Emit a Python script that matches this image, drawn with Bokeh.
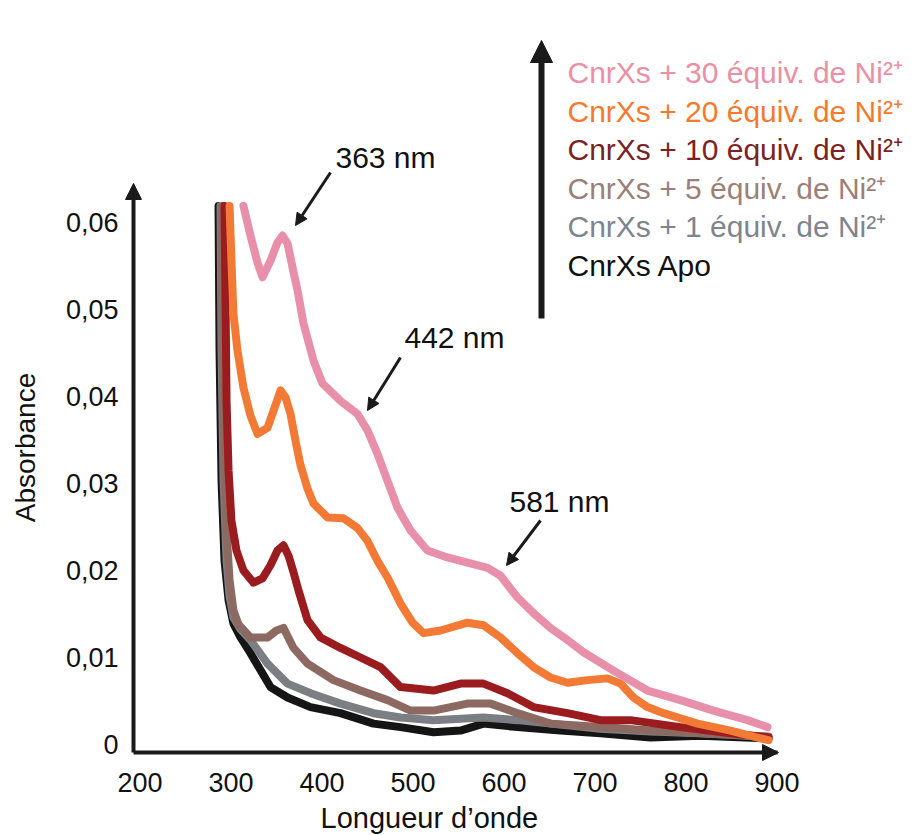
import math
from bokeh.plotting import figure
from bokeh.models import Range1d, FixedTicker, Label, Arrow, NormalHead, LinearAxis
from bokeh.embed import file_html
from bokeh.resources import INLINE

# ---------------- data ----------------
x_ticks = [200, 300, 400, 500, 600, 700, 800, 900]
y_ticks = [0, 0.01, 0.02, 0.03, 0.04, 0.05, 0.06]
y_tick_labels = ["0", "0,01", "0,02", "0,03", "0,04", "0,05", "0,06"]

series_names = [
    "CnrXs + 30 équiv. de Ni²⁺",
    "CnrXs + 20 équiv. de Ni²⁺",
    "CnrXs + 10 équiv. de Ni²⁺",
    "CnrXs + 5 équiv. de Ni²⁺",
    "CnrXs + 1 équiv. de Ni²⁺",
    "CnrXs Apo",
]

wl_30 = [313.7, 321.4, 329.1, 334.6, 343.4, 351.1, 356.6, 362.1, 368.7, 373.1, 379.7, 390.7,
         400.5, 420.3, 438.9, 450.0, 461.0, 472.0, 483.0, 497.3, 515.9, 537.9, 559.9, 581.9,
         596.2, 614.8, 632.4, 651.1, 669.8, 687.4, 720.3, 757.7, 793.9, 830.2, 867.6, 889.6]
abs_30 = [0.0619, 0.0585, 0.0554, 0.0537, 0.0556, 0.0577, 0.0585, 0.0576, 0.0543, 0.0522, 0.0484, 0.0441,
          0.0415, 0.0395, 0.0380, 0.0361, 0.0334, 0.0303, 0.0272, 0.0246, 0.0223, 0.0215, 0.0209, 0.0203,
          0.0194, 0.0169, 0.0151, 0.0134, 0.0120, 0.0106, 0.0085, 0.0062, 0.0051, 0.0039, 0.0028, 0.0020]

wl_20 = [298.4, 300.5, 302.7, 307.1, 313.7, 321.4, 329.1, 340.1, 348.9, 354.4, 359.9, 365.4,
         370.9, 376.4, 384.1, 390.7, 406.0, 423.6, 438.9, 450.0, 461.0, 472.0, 486.3, 499.5,
         511.5, 530.2, 559.9, 577.5, 596.2, 614.8, 632.4, 651.1, 669.8, 691.8, 713.7, 728.0,
         742.3, 757.7, 775.3, 812.6, 848.9, 878.6, 890.7]
abs_20 = [0.0619, 0.0556, 0.0495, 0.0453, 0.0410, 0.0378, 0.0357, 0.0364, 0.0390, 0.0407, 0.0399, 0.0380,
          0.0349, 0.0321, 0.0294, 0.0277, 0.0261, 0.0260, 0.0249, 0.0234, 0.0211, 0.0192, 0.0162, 0.0140,
          0.0128, 0.0131, 0.0140, 0.0137, 0.0123, 0.0105, 0.0089, 0.0077, 0.0071, 0.0074, 0.0076, 0.0070,
          0.0054, 0.0043, 0.0036, 0.0024, 0.0016, 0.0008, 0.0005]

wl_10 = [292.9, 294.0, 295.1, 297.3, 300.5, 306.0, 313.7, 324.7, 334.6, 343.4, 351.1, 357.7,
         363.2, 368.7, 374.2, 384.1, 398.4, 420.3, 442.3, 464.3, 478.6, 486.3, 522.5, 552.2,
         577.5, 603.8, 632.4, 669.8, 706.0, 739.0, 793.9, 848.9, 890.7]
abs_10 = [0.0619, 0.0510, 0.0395, 0.0315, 0.0257, 0.0223, 0.0200, 0.0186, 0.0191, 0.0206, 0.0223, 0.0229,
          0.0217, 0.0198, 0.0177, 0.0143, 0.0123, 0.0111, 0.0100, 0.0089, 0.0074, 0.0066, 0.0062, 0.0070,
          0.0070, 0.0059, 0.0043, 0.0036, 0.0028, 0.0028, 0.0020, 0.0013, 0.0008]

wl_5 = [289.6, 290.7, 292.9, 295.1, 298.4, 302.7, 308.2, 321.4, 340.1, 350.0, 357.7, 368.7,
        384.1, 412.6, 442.3, 472.0, 497.3, 522.5, 559.9, 585.2, 614.8, 651.1, 706.0, 761.0,
        815.9, 890.7]
abs_5 = [0.0619, 0.0453, 0.0315, 0.0246, 0.0189, 0.0154, 0.0138, 0.0123, 0.0123, 0.0131, 0.0134, 0.0111,
         0.0093, 0.0074, 0.0062, 0.0051, 0.0039, 0.0039, 0.0047, 0.0047, 0.0036, 0.0024, 0.0020, 0.0016,
         0.0013, 0.0009]

wl_1 = [288.5, 289.6, 291.8, 295.1, 298.4, 302.7, 310.0, 321.4, 340.1, 362.1, 387.4, 420.3, 456.6,
        486.3, 522.5, 577.5, 614.8, 706.0, 761.0, 815.9, 890.7]
abs_1 = [0.0619, 0.0453, 0.0303, 0.0211, 0.0171, 0.0146, 0.0133, 0.0120, 0.0093, 0.0070, 0.0059, 0.0047, 0.0036,
         0.0031, 0.0028, 0.0031, 0.0028, 0.0018, 0.0015, 0.0013, 0.0009]

wl_apo = [286.3, 287.4, 289.6, 292.9, 297.3, 302.7, 310.0, 321.4, 343.4, 362.1, 387.4, 420.3, 456.6,
          486.3, 522.5, 552.2, 577.5, 614.8, 662.1, 706.0, 761.0, 815.9, 890.7]
abs_apo = [0.0619, 0.0453, 0.0303, 0.0211, 0.0166, 0.0139, 0.0124, 0.0105, 0.0066, 0.0054, 0.0043, 0.0036, 0.0024,
           0.0020, 0.0014, 0.0016, 0.0024, 0.0020, 0.0016, 0.0013, 0.0008, 0.0010, 0.0007]

peak_labels = ["363 nm", "442 nm", "581 nm"]
x_title = "Longueur d’onde"
y_title = "Absorbance"

# ---------------- styling ----------------
line_colors = ["#E88FAA", "#F27A34", "#9A1C1F", "#8C6A62", "#7B7F83", "#151515"]
text_colors = ["#EC8FA3", "#F47A30", "#7B2323", "#9C7F77", "#7E858C", "#111111"]
FONT = "Liberation Sans"
INK = "#1a1a1a"

W, H = 921, 835
PX_PER_NM = 0.91        # horizontal pixels per nm
PX_PER_ABS = 8700.0     # vertical pixels per absorbance unit
X0_PX, X0_NM = 139.5, 200.0
Y0_PX = 744.0           # pixel row of absorbance 0


def px_x(px):
    return X0_NM + (px - X0_PX) / PX_PER_NM


def px_y(py):
    return (Y0_PX - py) / PX_PER_ABS


p = figure(width=W, height=H, output_backend="svg", toolbar_location=None,
           x_range=Range1d(px_x(0), px_x(W)), y_range=Range1d(px_y(H), px_y(0)),
           x_axis_location=None, y_axis_location=None, min_border=0)
p.outline_line_color = None
p.background_fill_color = "white"
p.border_fill_color = "white"
p.grid.visible = False


def style_axis(ax):
    ax.axis_line_width = 4
    ax.axis_line_color = INK
    ax.major_tick_line_color = None
    ax.minor_tick_line_color = None
    ax.major_tick_out = 0
    ax.major_tick_in = 0
    ax.major_label_text_font = FONT
    ax.major_label_text_font_size = "27px"
    ax.major_label_text_color = "#111111"


xaxis = LinearAxis(fixed_location=px_y(752), bounds=(px_x(133), 900.6),
                   ticker=FixedTicker(ticks=x_ticks), major_label_standoff=20)
style_axis(xaxis)
p.add_layout(xaxis, "below")

yaxis = LinearAxis(fixed_location=px_x(133), bounds=(px_y(752), px_y(190)),
                   ticker=FixedTicker(ticks=y_ticks), major_label_standoff=15)
yaxis.major_label_overrides = {t: s for t, s in zip(y_ticks, y_tick_labels)}
style_axis(yaxis)
p.add_layout(yaxis, "left")

# curves (drawn from lowest to highest)
all_wl = [wl_30, wl_20, wl_10, wl_5, wl_1, wl_apo]
all_abs = [abs_30, abs_20, abs_10, abs_5, abs_1, abs_apo]
for i in reversed(range(6)):
    p.line(all_wl[i], all_abs[i], line_color=line_colors[i], line_width=8,
           line_join="round", line_cap="round")

# axis arrow heads
head = dict(fill_color=INK, line_color=INK)
p.add_layout(Arrow(x_start=px_x(133), y_start=px_y(197), x_end=px_x(133), y_end=px_y(183),
                   line_color=INK, line_width=4, end=NormalHead(size=16, **head)))
p.add_layout(Arrow(x_start=px_x(762), y_start=px_y(752), x_end=px_x(778), y_end=px_y(752),
                   line_color=INK, line_width=4, end=NormalHead(size=16, **head)))

# axis titles
p.add_layout(Label(x=px_x(320), y=px_y(817), text=x_title, text_font=FONT,
                   text_font_size="29px", text_color="#111111",
                   text_align="left", text_baseline="alphabetic"))
p.add_layout(Label(x=px_x(25), y=px_y(447), text=y_title, text_font=FONT,
                   text_font_size="28px", text_color="#111111", angle=math.pi / 2,
                   text_align="center", text_baseline="middle"))

# peak annotations
peak_text_px = [(385, 157), (454, 337), (559, 501)]
peak_arrow_px = [((330, 172), (295, 225)),
                 ((400, 357), (367, 410)),
                 ((540, 520), (506, 565))]
for lbl, (tx, ty), ((ax0, ay0), (ax1, ay1)) in zip(peak_labels, peak_text_px, peak_arrow_px):
    p.add_layout(Label(x=px_x(tx), y=px_y(ty), text=lbl, text_font=FONT, text_font_size="30px",
                       text_color="#111111", text_align="center", text_baseline="middle"))
    p.add_layout(Arrow(x_start=px_x(ax0), y_start=px_y(ay0), x_end=px_x(ax1), y_end=px_y(ay1),
                       line_color=INK, line_width=3, end=NormalHead(size=12, **head)))

# legend (big arrow + coloured texts)
p.add_layout(Arrow(x_start=px_x(541), y_start=px_y(318), x_end=px_x(541), y_end=px_y(40),
                   line_color=INK, line_width=6, end=NormalHead(size=22, **head)))
legend_rows_px = [72, 111, 149, 188, 226, 265]
for name, col, ly in zip(series_names, text_colors, legend_rows_px):
    p.add_layout(Label(x=px_x(567), y=px_y(ly), text=name, text_font=FONT, text_font_size="30px",
                       text_color=col, text_align="left", text_baseline="middle"))

open("out.html", "w").write(file_html(p, INLINE))
